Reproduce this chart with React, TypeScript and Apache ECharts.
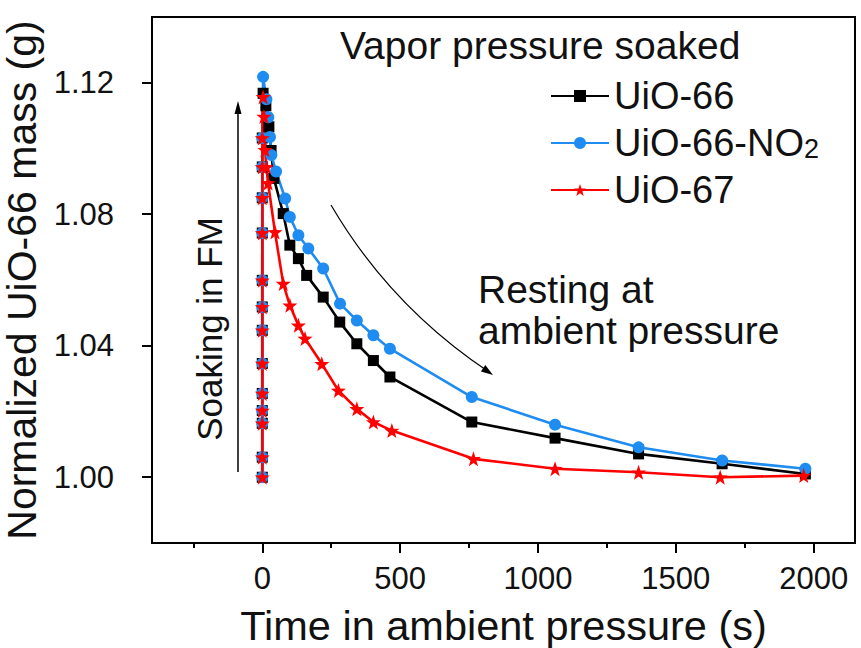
import React, { useEffect, useRef } from "react";
import * as echarts from "echarts";

// ---- data ----
const seriesNames = ["UiO-66", "UiO-66-NO2", "UiO-67"];

// soaking phase (t = 0) masses, bottom to top (black / blue mostly hidden under red)
const soakBlack = [1.0, 1.0061, 1.0164, 1.0203, 1.0255, 1.0346, 1.0447, 1.0518, 1.0599, 1.0743, 1.085, 1.0944, 1.1032];
const soakBlue = [1.0, 1.0061, 1.0164, 1.0203, 1.0255, 1.0346, 1.0447, 1.0518, 1.0599, 1.0743, 1.085, 1.0944, 1.1032];
const soakRed = [1.0, 1.0061, 1.0164, 1.0203, 1.0255, 1.0346, 1.0447, 1.0518, 1.0599, 1.0743, 1.085, 1.0944, 1.1032];

// resting phase
const timeBlack = [3, 13, 24, 32, 42, 76, 100, 131, 161, 221, 281, 343, 403, 463, 760, 1062, 1365, 1668, 1970];
const massBlack = [1.1168, 1.113, 1.1066, 1.0994, 1.0909, 1.0802, 1.0706, 1.0665, 1.0614, 1.0548, 1.0472, 1.0406, 1.0355, 1.0305, 1.0168, 1.0119, 1.0071, 1.0041, 1.001];

const timeBlue = [3, 15, 22, 28, 33, 50, 83, 100, 131, 167, 221, 282, 343, 403, 463, 760, 1062, 1365, 1668, 1970];
const massBlue = [1.1218, 1.115, 1.1095, 1.1035, 1.098, 1.093, 1.0848, 1.0792, 1.0736, 1.0696, 1.0635, 1.0528, 1.0477, 1.0432, 1.0391, 1.0244, 1.016, 1.0091, 1.0051, 1.0026];

const timeRed = [3, 6, 10, 15, 21, 46, 76, 100, 131, 155, 216, 276, 343, 403, 470, 766, 1062, 1365, 1661, 1964];
const massRed = [1.1157, 1.1097, 1.0996, 1.0944, 1.0895, 1.0746, 1.0589, 1.0523, 1.0462, 1.0422, 1.0345, 1.0264, 1.0208, 1.0168, 1.0142, 1.0056, 1.0026, 1.0015, 1.0, 1.0005];

const xMajorTicks = [0, 500, 1000, 1500, 2000];
const xMinorTicks = [-250, 250, 750, 1250, 1750];
const yTicks = [1.0, 1.04, 1.08, 1.12];

const FONT = "Liberation Sans, Arial, sans-serif";
const STAR =
  "path://M0,-10 L2.35,-3.24 L9.51,-3.09 L3.8,1.24 L5.88,8.09 L0,4 L-5.88,8.09 L-3.8,1.24 L-9.51,-3.09 L-2.35,-3.24 Z";

function build(soak: number[], t: number[], m: number[]) {
  const d: number[][] = soak.map((v) => [0, v]);
  t.forEach((x, i) => d.push([x, m[i]]));
  return d;
}

export default function App() {
  const ref = useRef<HTMLDivElement>(null);
  useEffect(() => {
    if (!ref.current) return;
    const chart = echarts.init(ref.current, undefined, { renderer: "svg" });
    const lineSeries = (name: string, data: number[][], color: string, symbol: string, size: number) => ({
      name,
      type: "line",
      data,
      xAxisIndex: 0,
      symbol,
      symbolSize: size,
      lineStyle: { color, width: 2.6 },
      itemStyle: { color },
      z: 3,
    });
    chart.setOption({
      animation: false,
      backgroundColor: "#fff",
      textStyle: { fontFamily: FONT },
      grid: {
        left: 152,
        top: 17,
        right: 6,
        bottom: 105,
        show: true,
        borderColor: "#000",
        borderWidth: 2,
        containLabel: false,
        outerBoundsMode: "none",
      },
      xAxis: [
        {
          type: "value",
          min: -400,
          max: 2150,
          position: "bottom",
          offset: 0,
          name: "Time in ambient pressure (s)",
          nameLocation: "middle",
          nameGap: 61,
          nameTextStyle: { fontSize: 41.5, color: "#111", fontFamily: FONT },
          axisLine: { show: true, onZero: false, lineStyle: { color: "#000", width: 2 } },
          axisTick: { show: true, customValues: xMajorTicks, length: 10, lineStyle: { color: "#000", width: 2 } },
          axisLabel: {
            customValues: xMajorTicks,
            fontSize: 31,
            color: "#111",
            margin: 20,
            fontFamily: FONT,
            formatter: (v: number) => String(v),
          },
          splitLine: { show: false },
        },
        {
          type: "value",
          min: -400,
          max: 2150,
          position: "bottom",
          offset: 0,
          axisLine: { show: false, onZero: false },
          axisTick: { show: true, customValues: xMinorTicks, length: 5, lineStyle: { color: "#000", width: 2 } },
          axisLabel: { show: false },
          splitLine: { show: false },
        },
      ],
      yAxis: {
        type: "value",
        min: 0.98,
        max: 1.14,
        name: "Normalized UiO-66 mass (g)",
        nameLocation: "middle",
        nameGap: 102,
        nameRotate: 90,
        nameTextStyle: { fontSize: 41, color: "#111", fontFamily: FONT },
        axisLine: { show: true, onZero: false, lineStyle: { color: "#000", width: 2 } },
        axisTick: { show: true, customValues: yTicks, length: 10, lineStyle: { color: "#000", width: 2 } },
        axisLabel: {
          customValues: yTicks,
          fontSize: 31,
          color: "#111",
          margin: 38,
          fontFamily: FONT,
          formatter: (v: number) => v.toFixed(2),
        },
        splitLine: { show: false },
      },
      legend: {
        orient: "vertical",
        left: 545,
        top: 72,
        itemWidth: 58,
        itemHeight: 15,
        itemGap: 9,
        data: seriesNames,
        textStyle: {
          fontSize: 38,
          lineHeight: 38,
          color: "#111",
          fontFamily: FONT,
          rich: {
            sub: { fontSize: 27, lineHeight: 38, verticalAlign: "bottom", color: "#111", fontFamily: FONT },
          },
        },
        formatter: (n: string) => (n === "UiO-66-NO2" ? "UiO-66-NO{sub|2}" : n),
      },
      graphic: [
        {
          type: "text",
          left: 340,
          top: 26,
          style: { text: "Vapor pressure soaked", fontSize: 39, fill: "#111", fontFamily: FONT },
        },
        {
          type: "line",
          shape: { x1: 238, y1: 472, x2: 238, y2: 108 },
          style: { stroke: "#000", lineWidth: 1.5 },
        },
        {
          type: "polygon",
          shape: { points: [[234.5, 114], [238, 101], [241.5, 114]] },
          style: { fill: "#000" },
        },
        {
          type: "text",
          x: 209,
          y: 329,
          rotation: Math.PI / 2,
          style: {
            text: "Soaking in FM",
            fontSize: 35,
            fill: "#111",
            fontFamily: FONT,
            align: "center",
            verticalAlign: "middle",
          },
        },
        {
          type: "bezierCurve",
          shape: { x1: 331, y1: 205, x2: 489, y2: 372, cpx1: 390, cpy1: 306 },
          style: { stroke: "#000", lineWidth: 1.2, fill: null },
        },
        {
          type: "polygon",
          shape: { points: [[493, 375], [480.9, 371.6], [485.3, 365.0]] },
          style: { fill: "#000" },
        },
        {
          type: "text",
          left: 478,
          top: 270,
          style: { text: "Resting at", fontSize: 39, fill: "#111", fontFamily: FONT },
        },
        {
          type: "text",
          left: 478,
          top: 311,
          style: { text: "ambient pressure", fontSize: 39, fill: "#111", fontFamily: FONT },
        },
      ],
      series: [
        lineSeries(seriesNames[0], build(soakBlack, timeBlack, massBlack), "#000000", "rect", 11),
        lineSeries(seriesNames[1], build(soakBlue, timeBlue, massBlue), "#1e8cf0", "circle", 12),
        lineSeries(seriesNames[2], build(soakRed, timeRed, massRed), "#ff0000", STAR, 15),
      ],
    });
    return () => chart.dispose();
  }, []);
  return <div ref={ref} style={{ position: "fixed", left: 0, top: 0, width: 861, height: 648 }} />;
}
